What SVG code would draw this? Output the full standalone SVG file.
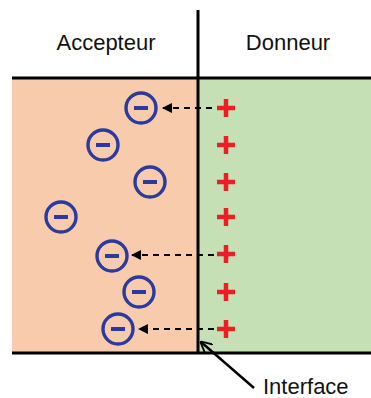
<svg xmlns="http://www.w3.org/2000/svg" width="371" height="398" viewBox="0 0 371 398">
<defs>
<style>
.lbl{font-family:"Liberation Sans",Arial,sans-serif;font-size:22px;fill:#111}
.neg circle{fill:none;stroke:#2B3A9E;stroke-width:3.4}
.neg line{stroke:#2B3A9E;stroke-width:4;stroke-linecap:butt}
.pos line{stroke:#EE1C24;stroke-width:4.5}
.dash{stroke:#000;stroke-width:2.2;stroke-dasharray:6,5;fill:none}
</style>
<marker id="ah" viewBox="0 0 10 10" refX="9" refY="5" markerWidth="4.5" markerHeight="4.5" orient="auto" markerUnits="strokeWidth">
<path d="M0,0 L10,5 L0,10 Z" fill="#000"/>
</marker>
<marker id="ah2" viewBox="0 0 10 10" refX="9" refY="5" markerWidth="5" markerHeight="5" orient="auto" markerUnits="strokeWidth">
<path d="M0,0 L10,5 L0,10" fill="none" stroke="#000" stroke-width="1.5"/>
</marker>
</defs>
<rect width="371" height="398" fill="#fff"/>
<g id="acceptor-region"><rect x="12" y="78" width="186" height="275" fill="#F8CBAD"/></g>
<g id="donor-region"><rect x="198" y="78" width="173" height="275" fill="#C5E0B4"/></g>
<g id="borders" stroke="#000" stroke-width="3">
<line x1="12" y1="78" x2="371" y2="78"/>
<line x1="12" y1="353" x2="371" y2="353"/>
<line x1="198" y1="10" x2="198" y2="353"/>
</g>
<g id="title-acceptor"><text class="lbl" x="106" y="50" text-anchor="middle">Accepteur</text></g>
<g id="title-donor"><text class="lbl" x="288" y="50" text-anchor="middle">Donneur</text></g>
<g id="negatives" class="neg">
<g id="n1"><circle cx="141" cy="108" r="15"/><line x1="134" y1="108" x2="148" y2="108"/></g>
<g id="n2"><circle cx="103" cy="145" r="15"/><line x1="96" y1="145" x2="110" y2="145"/></g>
<g id="n3"><circle cx="150" cy="182" r="15"/><line x1="143" y1="182" x2="157" y2="182"/></g>
<g id="n4"><circle cx="61" cy="217" r="15"/><line x1="54" y1="217" x2="68" y2="217"/></g>
<g id="n5"><circle cx="112" cy="256" r="15"/><line x1="105" y1="256" x2="119" y2="256"/></g>
<g id="n6"><circle cx="139" cy="292" r="15"/><line x1="132" y1="292" x2="146" y2="292"/></g>
<g id="n7"><circle cx="118" cy="329" r="15"/><line x1="111" y1="329" x2="125" y2="329"/></g>
</g>
<g id="positives" class="pos">
<g id="p1"><line x1="217" y1="108" x2="235" y2="108"/><line x1="226" y1="99" x2="226" y2="117"/></g>
<g id="p2"><line x1="217" y1="145" x2="235" y2="145"/><line x1="226" y1="136" x2="226" y2="154"/></g>
<g id="p3"><line x1="217" y1="182" x2="235" y2="182"/><line x1="226" y1="173" x2="226" y2="191"/></g>
<g id="p4"><line x1="217" y1="217" x2="235" y2="217"/><line x1="226" y1="208" x2="226" y2="226"/></g>
<g id="p5"><line x1="217" y1="254" x2="235" y2="254"/><line x1="226" y1="245" x2="226" y2="263"/></g>
<g id="p6"><line x1="217" y1="292" x2="235" y2="292"/><line x1="226" y1="283" x2="226" y2="301"/></g>
<g id="p7"><line x1="217" y1="329" x2="235" y2="329"/><line x1="226" y1="320" x2="226" y2="338"/></g>
</g>
<g id="connectors">
<line class="dash" x1="212" y1="108" x2="163" y2="108" marker-end="url(#ah)"/>
<line class="dash" x1="214" y1="255" x2="132" y2="255" marker-end="url(#ah)"/>
<line class="dash" x1="214" y1="329" x2="139" y2="329" marker-end="url(#ah)"/>
<line x1="254" y1="388" x2="201" y2="342" stroke="#000" stroke-width="2.4" marker-end="url(#ah2)"/>
</g>
<g id="label-interface"><text class="lbl" x="263" y="394">Interface</text></g>
</svg>
